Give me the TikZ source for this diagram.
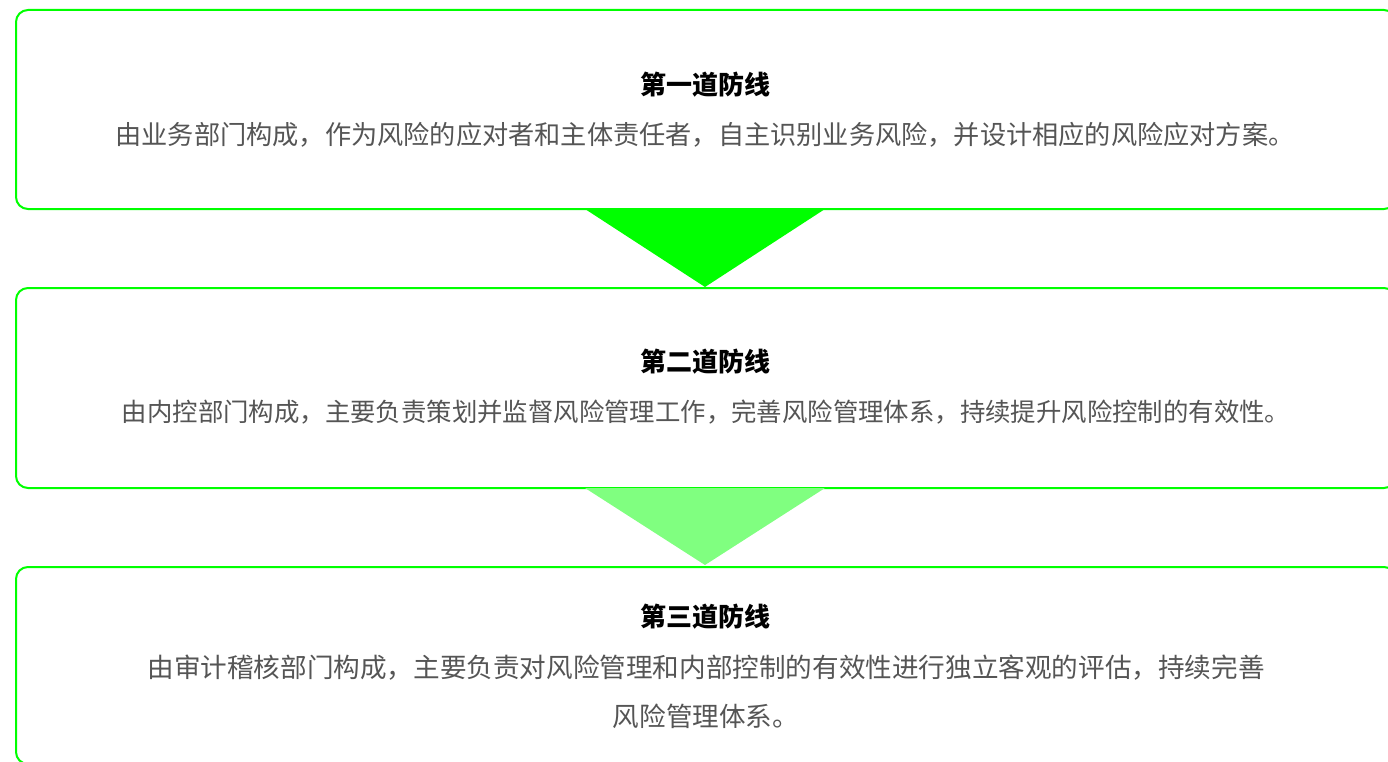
\documentclass[tikz,border=0pt]{standalone}
\usepackage{fontspec}
\setmainfont{Noto Sans CJK SC}
\definecolor{linegreen}{RGB}{0,255,0}
\definecolor{lightgreen}{RGB}{128,255,128}
\definecolor{bodygrey}{RGB}{85,85,85}
\tikzset{
  panel/.style={draw=linegreen, line width=2pt, rounded corners=12pt, minimum width=1380pt, inner sep=0pt, fill=white},
  title/.style={font=\fontsize{26}{30}\selectfont\bfseries, text=black, inner sep=0pt},
  body/.style={font=\fontsize{26.2}{49}\selectfont, text=bodygrey, inner sep=0pt, align=center},
}
\begin{document}
\begin{tikzpicture}[x=1pt,y=1pt]
\useasboundingbox (0,0) rectangle (1388,-762);
\node[panel, minimum height=199pt] (b1) at (706,-109.5) {};
\node[panel, minimum height=200pt] (b2) at (706,-388) {};
\node[panel, minimum height=197pt] (b3) at (706,-665.5) {};
\fill[linegreen] (585,-209) -- (825,-209) -- (705,-287) -- cycle;
\fill[lightgreen] (585,-488) -- (825,-488) -- (705,-565) -- cycle;
\node[title] (t1) at (705,-85) {第一道防线};
\node[body] (d1) at (705,-135) {由业务部门构成，作为风险的应对者和主体责任者，自主识别业务风险，并设计相应的风险应对方案。};
\node[title] (t2) at (705,-362) {第二道防线};
\node[body, font=\fontsize{25.4}{49}\selectfont] (d2) at (706,-412) {由内控部门构成，主要负责策划并监督风险管理工作，完善风险管理体系，持续提升风险控制的有效性。};
\node[title] (t3) at (705,-617) {第三道防线};
\node[body, font=\fontsize{26.6}{49}\selectfont] (d3) at (706,-691.5) {由审计稽核部门构成，主要负责对风险管理和内部控制的有效性进行独立客观的评估，持续完善\\风险管理体系。};
\end{tikzpicture}
\end{document}
